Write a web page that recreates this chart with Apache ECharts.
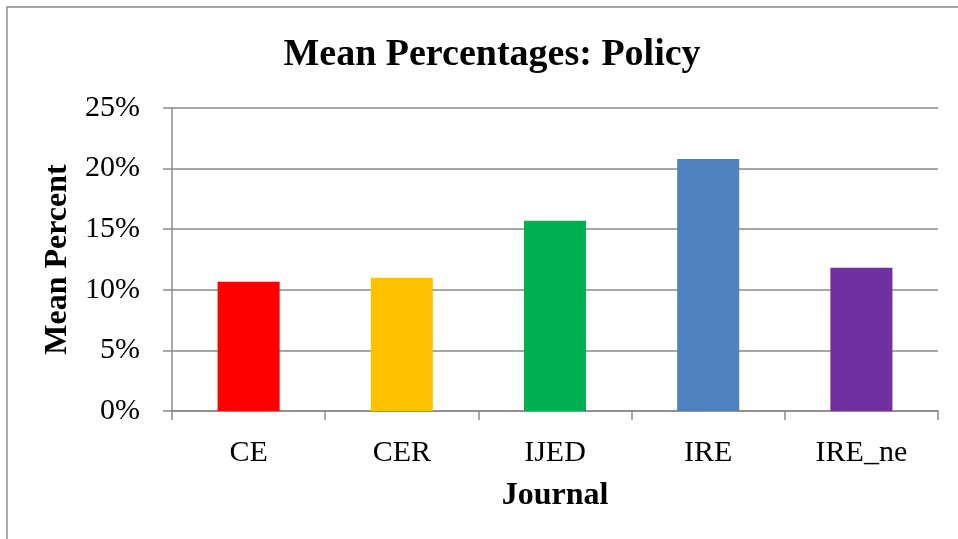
<!DOCTYPE html>
<html>
<head>
<meta charset="utf-8">
<title>Mean Percentages: Policy</title>
<script src="https://cdn.jsdelivr.net/npm/echarts@6/dist/echarts.min.js"></script>
<style>
  html, body { margin: 0; padding: 0; background: #ffffff; }
  #chart { width: 958px; height: 539px; }
</style>
</head>
<body>
<div id="chart"></div>
<script>
// Journals on the category axis
const journals = ['CE', 'CER', 'IJED', 'IRE', 'IRE_ne'];
// Mean share of policy content per journal (fraction of 1)
const meanPercent = [0.1066, 0.1099, 0.1569, 0.2080, 0.1181];
// One fill per journal
const barColors = ['#FF0000', '#FFC000', '#00B050', '#4F81BD', '#7030A0'];

const serif = "'Liberation Serif', 'Times New Roman', Times, serif";
const axisGray = '#8a8a8a';

const chart = echarts.init(document.getElementById('chart'), null, { renderer: 'canvas' });

chart.setOption({
  backgroundColor: '#ffffff',
  animation: false,
  title: {
    text: 'Mean Percentages: Policy',
    left: 487,
    top: 31,
    textAlign: 'center',
    textStyle: { fontFamily: serif, fontSize: 38, fontWeight: 'bold', color: '#000' }
  },
  graphic: [{
    type: 'rect',
    shape: { x: 7, y: 7, width: 962, height: 542 },
    style: { fill: null, stroke: axisGray, lineWidth: 1.5 },
    silent: true
  }],
  grid: { left: 172, right: 20, top: 108, bottom: 128, containLabel: false },
  xAxis: {
    type: 'category',
    data: journals,
    name: 'Journal',
    nameLocation: 'middle',
    nameGap: 69,
    nameTextStyle: { fontFamily: serif, fontSize: 32, fontWeight: 'bold', color: '#000' },
    axisLine: { show: true, lineStyle: { color: axisGray, width: 1.5 } },
    axisTick: { show: true, length: 9, inside: false, lineStyle: { color: axisGray, width: 1.5 } },
    axisLabel: { fontFamily: serif, fontSize: 30, color: '#000', margin: 27 },
    splitLine: { show: false }
  },
  yAxis: {
    type: 'value',
    min: 0,
    max: 0.25,
    interval: 0.05,
    name: 'Mean Percent',
    nameLocation: 'middle',
    nameGap: 89,
    nameRotate: 90,
    nameTextStyle: { fontFamily: serif, fontSize: 32, fontWeight: 'bold', color: '#000' },
    axisLine: { show: true, lineStyle: { color: axisGray, width: 1.5 } },
    axisTick: { show: true, length: 9, inside: false, lineStyle: { color: axisGray, width: 1.5 } },
    axisLabel: {
      fontFamily: serif, fontSize: 30, color: '#000', margin: 32,
      formatter: v => Math.round(v * 100) + '%'
    },
    splitLine: { show: true, lineStyle: { color: axisGray, width: 1.5 } }
  },
  series: [{
    type: 'bar',
    data: meanPercent.map((v, i) => ({ value: v, itemStyle: { color: barColors[i] } })),
    barWidth: '40.5%',
    silent: true
  }]
});
</script>
</body>
</html>
